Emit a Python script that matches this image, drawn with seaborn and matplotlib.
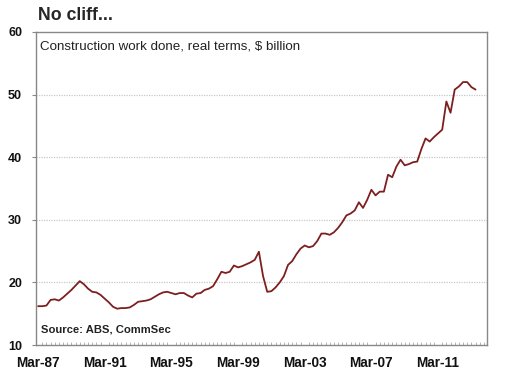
import matplotlib
matplotlib.use("Agg")
import matplotlib.pyplot as plt
import seaborn as sns
import pandas as pd
import numpy as np

# Quarterly construction work done, real terms, $ billion (Mar-87 onwards)
values = [
    16.2, 16.2, 16.3, 17.2, 17.3, 17.1, 17.6, 18.2, 18.8, 19.5,
    20.2, 19.7, 19.0, 18.5, 18.4, 18.0, 17.4, 16.8, 16.1, 15.8,
    15.9, 15.9, 16.0, 16.4, 16.9, 17.0, 17.1, 17.3, 17.7, 18.1,
    18.4, 18.5, 18.3, 18.1, 18.3, 18.3, 17.9, 17.6, 18.2, 18.3,
    18.8, 19.0, 19.4, 20.5, 21.7, 21.5, 21.7, 22.7, 22.4, 22.6,
    22.9, 23.2, 23.6, 24.9, 21.0, 18.5, 18.6, 19.2, 20.0, 21.0,
    22.8, 23.4, 24.5, 25.4, 25.9, 25.6, 25.8, 26.6, 27.8, 27.8,
    27.6, 28.0, 28.7, 29.6, 30.7, 31.0, 31.5, 32.8, 31.9, 33.2,
    34.8, 33.9, 34.5, 34.5, 37.2, 36.8, 38.5, 39.6, 38.7, 38.9,
    39.2, 39.3, 41.3, 43.0, 42.5, 43.2, 43.8, 44.4, 48.9, 47.1,
    50.8, 51.3, 52.0, 52.0, 51.2, 50.8,
]
quarter = list(range(len(values)))
tick_labels = ["Mar-87", "Mar-91", "Mar-95", "Mar-99", "Mar-03", "Mar-07", "Mar-11"]
y_ticks = [10, 20, 30, 40, 50, 60]

df = pd.DataFrame({"quarter": quarter, "value": values})

sns.set_theme(style="white")
plt.rcParams["font.family"] = ["Liberation Sans", "DejaVu Sans"]

fig = plt.figure(figsize=(5.10, 3.86), dpi=100)
ax = fig.add_axes([36 / 510, 1 - 345 / 386, 451 / 510, 313 / 386])

sns.lineplot(data=df, x="quarter", y="value", ax=ax, color="#7d1f1f", linewidth=1.3)

ax.set_xlim(-0.5, 107.75)
ax.set_ylim(10, 60)
ax.set_yticks(y_ticks)
ax.set_yticklabels([str(v) for v in y_ticks], fontsize=9, fontweight="bold", color="#111111")
ax.set_xticks([16 * i for i in range(len(tick_labels))])
ax.set_xticklabels(tick_labels, fontsize=9.8, fontweight="bold", color="#111111")
ax.set_xticks(np.arange(0, 108, 1), minor=True)
ax.tick_params(axis="x", which="major", length=0, pad=8)
ax.tick_params(axis="x", which="minor", direction="in", length=2.5, width=0.6, color="#aaaaaa", bottom=True)
ax.tick_params(axis="y", which="major", direction="out", length=3, width=0.8, color="#888888", left=True, pad=7)
ax.set_xlabel("")
ax.set_ylabel("")

for yv in [20, 30, 40, 50]:
    ax.axhline(yv, color="#c8c8c8", linestyle=(0, (1, 1)), linewidth=0.9, zorder=0)

for s in ax.spines.values():
    s.set_visible(True)
    s.set_color("#888888")
    s.set_linewidth(1.0)

fig.text(38 / 510, 1 - 15 / 386, "No cliff...", fontsize=12.8, fontweight="bold", va="center", ha="left")
ax.text(0.009, 0.955, "Construction work done, real terms, $ billion", transform=ax.transAxes,
        fontsize=9.6, va="center", ha="left", color="#222222")
ax.text(0.011, 0.051, "Source: ABS, CommSec", transform=ax.transAxes,
        fontsize=8.1, fontweight="bold", va="center", ha="left", color="#222222")

fig.savefig("out.png", dpi=100)
